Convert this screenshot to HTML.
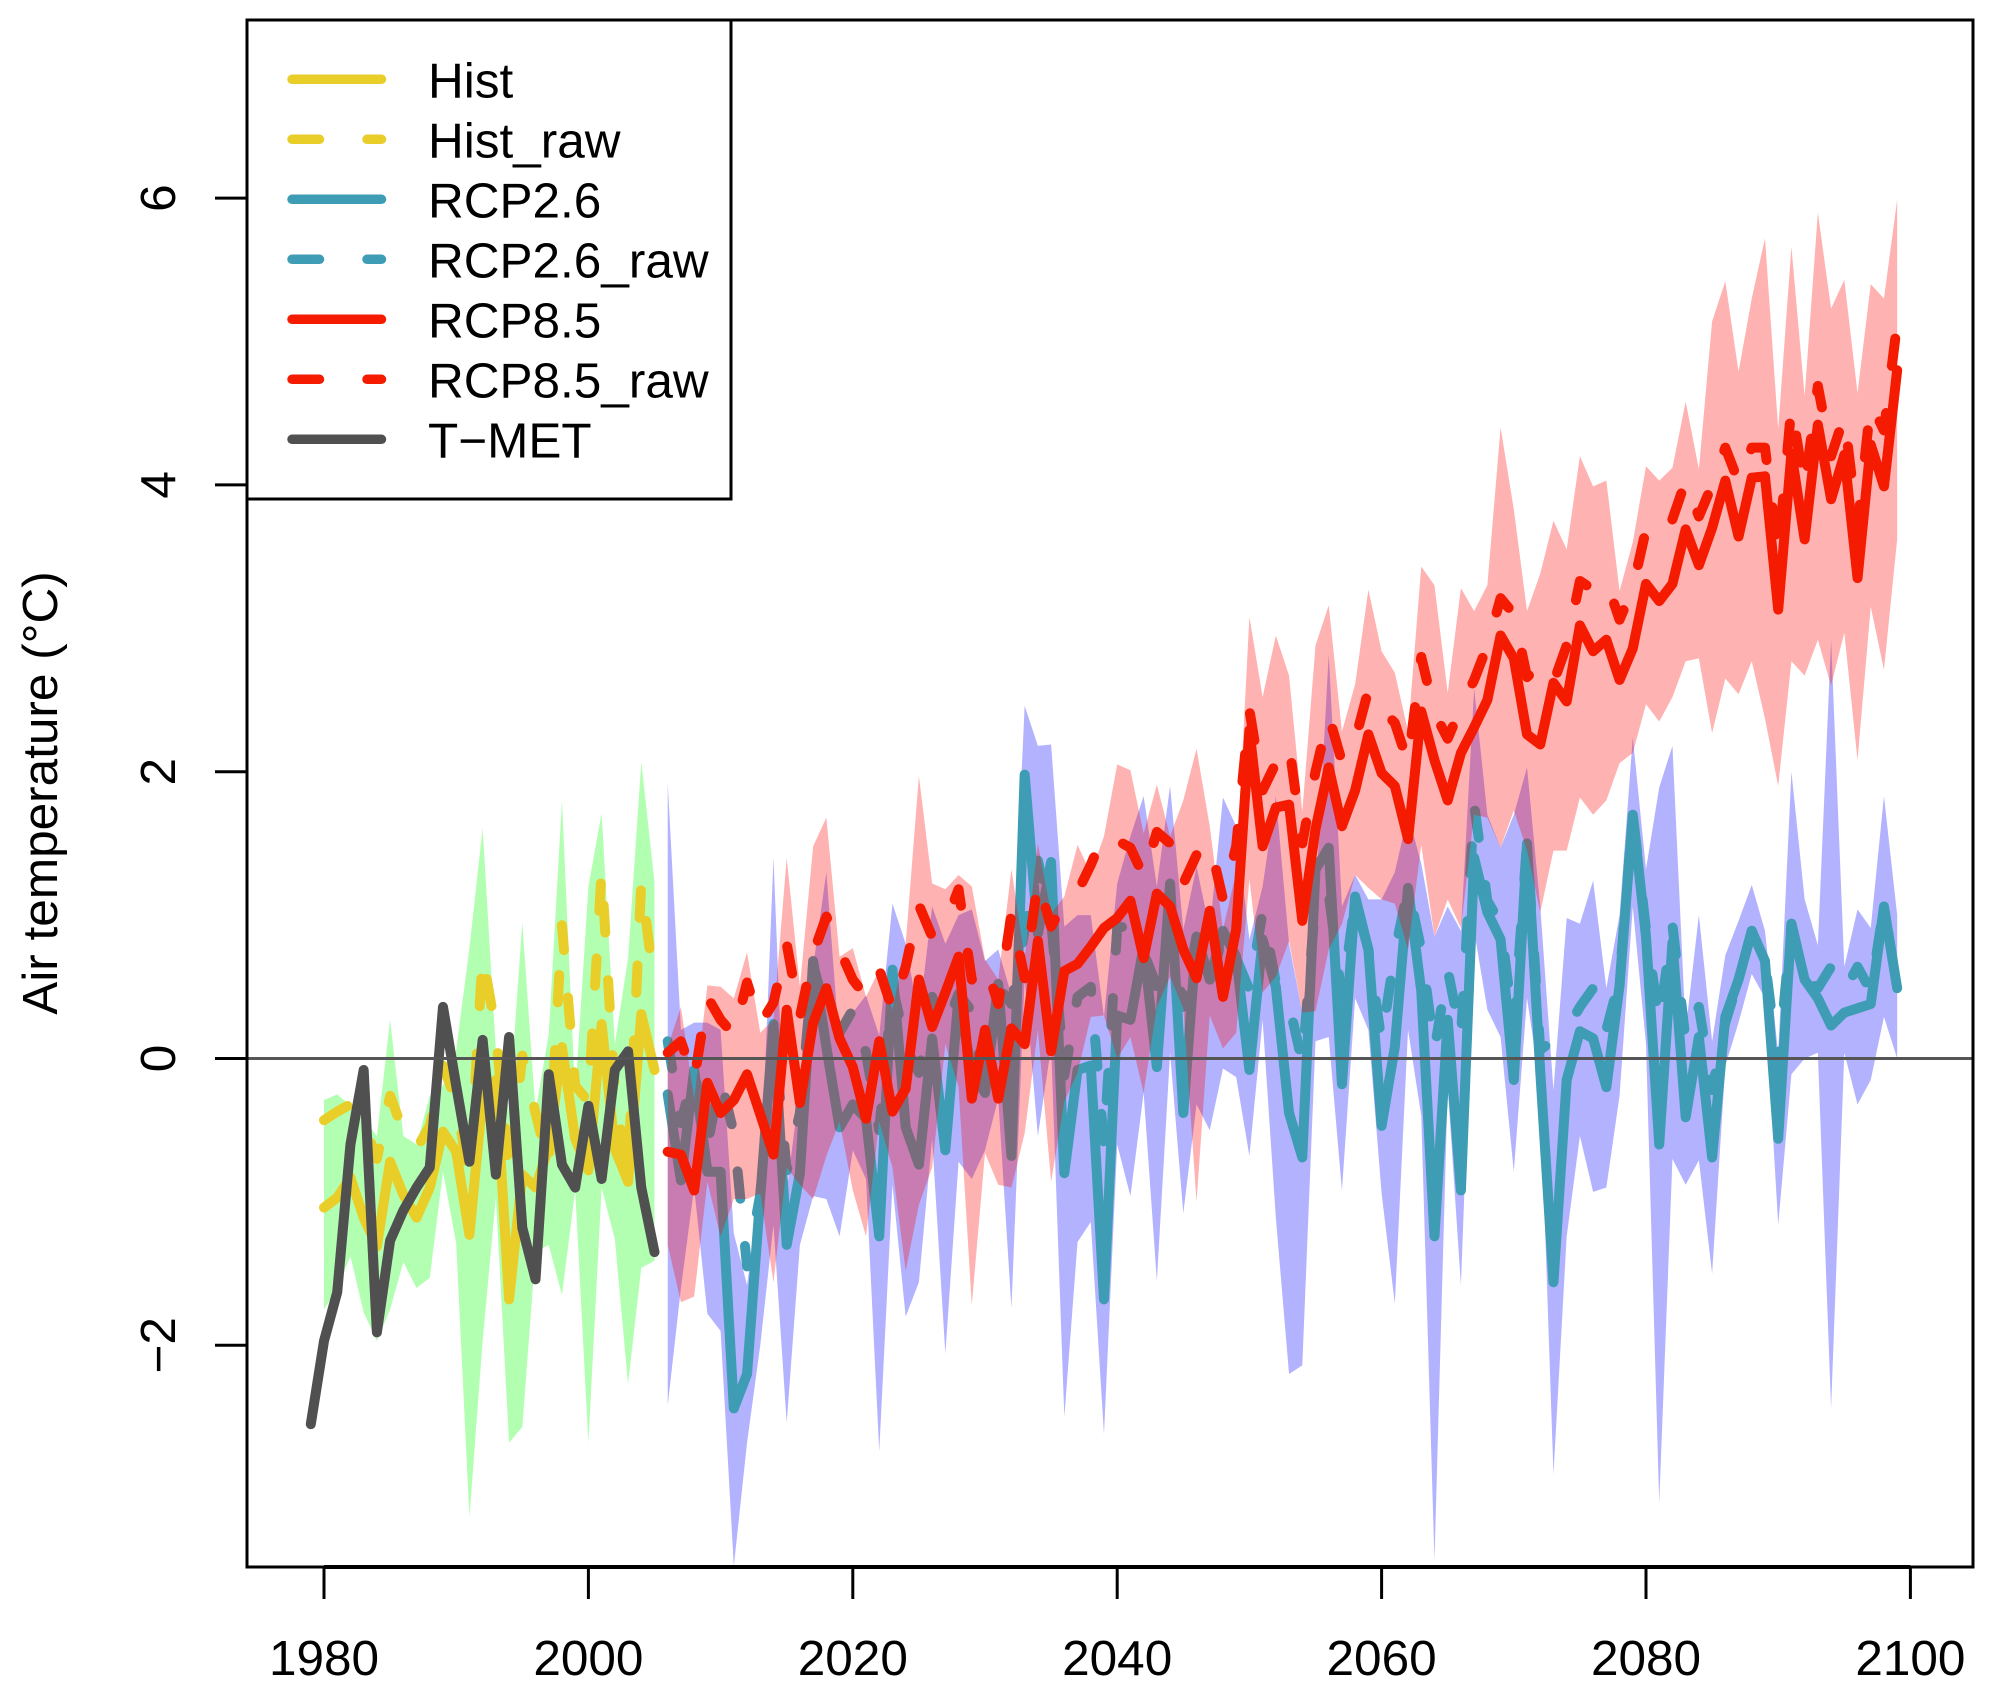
<!DOCTYPE html>
<html lang="en">
<head>
<meta charset="utf-8">
<title>Air temperature projections</title>
<style>
html,body{margin:0;padding:0;background:#fff;}
svg{display:block;font-family:"Liberation Sans",Arial,sans-serif;}
text{fill:#000;font-size:49.5px;}
</style>
</head>
<body>
<svg id="chart" xmlns="http://www.w3.org/2000/svg" width="1995" height="1694" viewBox="0 0 1995 1694">
<defs><clipPath id="plot-clip"><rect x="247" y="20" width="1726" height="1547"/></clipPath></defs>
<rect x="0" y="0" width="1995" height="1694" fill="#ffffff"/>
<g id="marks" clip-path="url(#plot-clip)"></g>
<g id="frame"></g>
</svg>
<script>
const histStart = 1980;
const metStart = 1979;
const futureStart = 2006;
const xTicks = [1980, 2000, 2020, 2040, 2060, 2080, 2100];
const yTicks = [-2, 0, 2, 4, 6];
const legendLabels = ["Hist", "Hist_raw", "RCP2.6", "RCP2.6_raw", "RCP8.5", "RCP8.5_raw", "T\u2212MET"];

const tmet = [-2.55,-1.97,-1.63,-0.60,-0.08,-1.91,-1.27,-1.06,-0.90,-0.76,0.36,-0.19,-0.72,0.13,-0.81,0.15,-1.18,-1.54,-0.11,-0.74,-0.90,-0.33,-0.84,-0.08,0.05,-0.90,-1.35];
const hist = [-1.04,-0.97,-0.83,-1.11,-1.31,-0.72,-0.95,-1.11,-0.90,-0.51,-0.65,-1.23,-0.26,-0.15,-1.68,-0.81,-0.90,-0.62,0.08,-0.56,-0.78,0.24,-0.63,-0.86,0.31,-0.08];
const histRaw = [-0.43,-0.37,-0.32,-0.45,-0.70,-0.26,-0.51,-0.63,-0.47,-0.05,-0.30,-0.86,0.72,0.19,-0.83,0.02,-0.38,-0.75,0.93,-0.19,-0.30,1.31,-0.25,-0.80,1.23,0.49];
const histUpper = [-0.29,-0.25,-0.33,-0.42,-0.54,0.27,-0.54,-0.60,-0.26,-0.19,0.06,0.77,1.61,0.06,-0.37,0.95,-0.37,0.17,1.80,-0.26,1.20,1.71,0.10,0.70,2.07,1.23];
const histLower = [-1.75,-1.60,-1.38,-1.77,-1.97,-1.75,-1.42,-1.60,-1.53,-0.79,-1.29,-3.20,-1.97,-0.97,-2.68,-2.57,-1.35,-1.30,-1.65,-0.92,-2.68,-0.90,-1.26,-2.27,-1.46,-1.41];

const rcp26 = [
-0.25,-0.85,-0.08,-0.79,-0.79,-2.44,-2.2,-0.96,0.24,-1.30,
-0.80,0.68,0.08,-0.48,-0.32,-0.42,-1.24,0.62,-0.48,-0.74,
0.14,-0.64,0.43,-0.1,-0.24,0.52,-0.68,1.98,0.87,1.37,
-0.80,-0.08,-0.05,-1.68,0.30,0.27,0.78,-0.06,1.22,-0.38,
0.85,0.55,0.89,0.71,-0.08,0.83,0.5,-0.38,-0.69,1.32,
1.47,-0.18,1.13,0.76,-0.47,0.08,1.19,0.47,-1.24,0.27,
-0.92,1.4,1.02,0.83,-0.15,1.5,-0.09,-1.56,-0.15,0.19,
0.14,-0.2,0.51,1.70,0.85,-0.60,0.81,-0.41,0.15,-0.69,
0.29,0.55,0.89,0.68,-0.56,0.94,0.55,0.42,0.23,0.32,
0.35,0.38,1.06,0.49];
const rcp26Raw = [
0.12,-0.45,-0.08,-0.6,-0.14,-0.52,-1.45,-0.95,0.2,-0.78,
-0.38,0.65,0.32,0.18,0.34,0.04,-0.5,0.5,0.1,-0.1,
0.43,0.22,0.45,0.33,-0.22,0.5,0.38,0.9,1.38,0.97,
-0.12,0.43,0.5,-0.6,0.91,0.93,0.74,0.5,0.9,0.36,
0.85,0.5,0.87,0.7,0.48,1.02,0.53,0.38,-0.03,1.1,
1.15,0.42,1.1,0.76,0.12,0.74,1.19,0.76,0.06,0.62,
0.15,1.77,1.1,0.94,0.2,1.51,0.06,0.13,0.2,0.36,
0.49,0.2,0.55,1.70,0.9,0.25,0.93,0.12,0.36,-0.22,
0.25,0.55,0.89,0.68,-0.05,0.94,0.55,0.49,0.64,0.47,
0.64,0.47,1.06,0.49];
const rcp26Upper = [
1.92,0.2,0.25,0.25,0.2,-1.22,-1.58,-0.92,1.4,-0.92,
-0.2,0.64,1.3,0.08,0.32,0.44,0.16,1.08,0.8,0.28,
1.06,0.8,1.0,1.04,0.68,0.76,0.44,2.46,2.18,2.19,
0.92,1.0,1.0,0.29,1.22,1.55,1.83,1.2,1.9,0.9,
1.34,0.9,1.82,1.62,0.83,1.2,1.83,0.8,0.32,1.1,
2.82,1.06,1.28,1.11,1.11,1.3,1.7,1.36,0.85,1.06,
0.89,2.58,1.7,1.47,1.7,2.03,1.06,-0.22,0.98,0.94,
1.24,0.49,1.0,2.24,1.32,1.89,2.18,0.2,1.0,0.12,
0.72,0.96,1.21,0.89,0.04,2.0,1.11,0.79,2.92,0.64,
1.04,0.91,1.83,1.0];
const rcp26Lower = [
-2.42,-1.6,-0.9,-1.78,-1.90,-3.54,-2.68,-2.0,-1.16,-2.54,
-1.3,-0.96,-0.98,-1.24,-0.64,-0.84,-2.74,-0.88,-1.8,-1.56,
-0.56,-2.06,-0.72,-0.84,-0.64,-0.28,-1.74,0.56,-0.54,0.08,
-2.5,-1.28,-1.14,-2.62,-0.6,-0.96,-0.24,-1.55,0.04,-1.08,
-0.32,-0.5,-0.07,-0.13,-0.68,0.27,-1.11,-2.2,-2.14,0.12,
0.15,-0.92,0.42,0.2,-0.94,-1.71,0.2,-0.4,-3.5,-0.2,
-1.58,0.89,0.34,0.15,-0.79,0.42,-0.2,-2.9,-1.24,-0.54,
-0.93,-0.9,-0.26,1.06,0.1,-3.1,-0.7,-0.88,-0.71,-1.5,
-0.05,0.25,0.59,0.42,-1.16,-0.11,0,0.04,-2.44,0.04,
-0.32,-0.15,0.29,0];

const rcp85 = [
-0.65,-0.67,-0.92,-0.17,-0.38,-0.29,-0.11,-0.39,-0.67,0.34,
-0.31,0.25,0.49,0.14,-0.06,-0.42,0.12,-0.37,-0.21,0.55,
0.22,0.46,0.71,-0.28,0.2,-0.28,0.21,0.1,0.82,0.05,
0.61,0.66,0.78,0.91,0.98,1.10,0.70,1.15,1.06,0.76,
0.56,1.03,0.43,0.90,2.29,1.48,1.75,1.77,0.96,1.60,
2.03,1.62,1.87,2.26,1.99,1.90,1.53,2.42,2.08,1.80,
2.13,2.31,2.5,2.95,2.79,2.26,2.19,2.62,2.49,3.02,
2.84,2.92,2.64,2.86,3.31,3.19,3.31,3.69,3.44,3.70,
4.03,3.64,4.05,4.06,3.13,4.22,3.62,4.42,3.90,4.21,
3.35,4.28,3.99,4.80];
const rcp85Raw = [
0.04,0.12,-0.15,0.43,0.27,0.165,0.53,0.24,0.39,0.80,
0.29,0.73,0.99,0.76,0.55,0.43,0.62,0.34,0.64,1.07,
0.85,0.94,1.18,0.55,0.665,0.38,1.01,0.56,1.24,0.92,
1.09,1.16,1.35,1.57,1.52,1.47,1.27,1.58,1.5,1.22,
1.42,1.51,1.11,1.48,2.43,1.87,2.06,2.19,1.50,2.0,
2.39,2.07,2.22,2.57,2.44,2.34,2.06,2.80,2.41,2.23,
2.45,2.64,2.88,3.21,3.10,2.66,2.74,2.62,2.88,3.33,
3.27,3.33,3.06,3.28,3.69,3.63,3.76,4.03,3.78,4.0,
4.26,4.02,4.26,4.26,3.52,4.55,3.98,4.69,4.2,4.48,
3.71,4.57,4.38,5.13];
const rcp85Upper = [
0.08,0.36,-0.29,0.51,0.50,0.42,0.74,0.18,0.27,1.40,
0.5,1.48,1.68,0.71,0.77,0.43,0.62,0.34,0.8,1.97,
1.22,1.18,1.28,1.2,0.69,0.55,1.32,0.7,1.5,1.01,
1.13,1.49,1.29,1.55,2.05,2.01,1.57,1.91,1.55,1.8,
2.16,1.62,0.9,1.3,3.08,2.52,2.95,2.67,1.72,2.88,
3.16,2.28,2.61,3.27,2.84,2.69,2.28,3.43,3.30,2.55,
3.28,3.12,3.30,4.40,3.83,3.12,3.38,3.75,3.55,4.20,
3.99,4.03,3.26,3.60,4.13,4.03,4.12,4.58,4.11,5.14,
5.42,4.79,5.30,5.72,4.39,5.66,4.62,5.90,5.23,5.43,
4.64,5.40,5.30,5.99];
const rcp85Lower = [
-1.3,-1.70,-1.66,-0.86,-1.24,-0.98,-0.98,-0.94,-1.56,-0.76,
-0.88,-0.98,-0.68,-0.44,-0.92,-1.24,-0.44,-0.76,-1.48,-1.02,
-0.76,0.1,-0.2,-1.72,-0.66,-0.88,-0.9,-0.52,0.2,-0.86,
-0.3,-0.1,0.29,0.30,0,0.15,-0.24,0.36,0.57,0.35,
-1.0,0.3,0.07,0.18,1.25,0.46,0.57,0.82,0.32,0.33,
0.76,0.94,1.28,1.19,1.11,1.08,0.76,1.49,0.85,1.11,
0.91,1.7,1.68,1.47,1.73,1.45,1.02,1.45,1.45,1.82,
1.70,1.80,2.06,2.13,2.47,2.35,2.52,2.77,2.79,2.27,
2.65,2.54,2.77,2.37,1.90,2.77,2.67,2.92,2.60,2.97,
2.08,3.15,2.71,3.62];

const NS = "http://www.w3.org/2000/svg";
const marks = document.getElementById("marks");
const frame = document.getElementById("frame");
const YELLOW = "#e9ce2a", TEAL = "#3e9db4", RED = "#f51b00", GRAY = "#505050";
const DASH = "27.5 47.5";

function xScale(year) { return 324 + (year - 1980) * 13.22; }
function yScale(v) { return 1058.5 - 143.4 * v; }

function make(tag, attrs, parent) {
  const el = document.createElementNS(NS, tag);
  for (const k in attrs) el.setAttribute(k, attrs[k]);
  parent.appendChild(el);
  return el;
}
function linePoints(values, start) {
  return values.map(function (v, i) { return xScale(start + i).toFixed(2) + "," + yScale(v).toFixed(2); }).join(" ");
}
function ribbonPoints(upper, lower, start) {
  const top = upper.map(function (v, i) { return xScale(start + i).toFixed(2) + "," + yScale(v).toFixed(2); });
  const bottom = lower.map(function (v, i) { return xScale(start + i).toFixed(2) + "," + yScale(v).toFixed(2); }).reverse();
  return top.concat(bottom).join(" ");
}
function ribbon(upper, lower, start, fill) {
  return make("polygon", { points: ribbonPoints(upper, lower, start), fill: fill, stroke: "none" }, marks);
}
function series(values, start, color, dashed) {
  const attrs = { points: linePoints(values, start), fill: "none", stroke: color, "stroke-width": 10, "stroke-linecap": "round", "stroke-linejoin": "round" };
  if (dashed) attrs["stroke-dasharray"] = DASH;
  return make("polyline", attrs, marks);
}

const histBand = ribbon(histUpper, histLower, histStart, "rgba(0,255,0,0.3)");


const histLine = series(hist, histStart, YELLOW, false);


const histRawLine = series(histRaw, histStart, YELLOW, true);



const rcp26Band = ribbon(rcp26Upper, rcp26Lower, futureStart, "rgba(0,0,255,0.3)");


const rcp26Line = series(rcp26, futureStart, TEAL, false);


const rcp26RawLine = series(rcp26Raw, futureStart, TEAL, true);



const rcp85Band = ribbon(rcp85Upper, rcp85Lower, futureStart, "rgba(255,0,0,0.3)");


const rcp85Line = series(rcp85, futureStart, RED, false);


const rcp85RawLine = series(rcp85Raw, futureStart, RED, true);



const tmetLine = series(tmet, metStart, GRAY, false);



const zeroLine = make("line", { x1: 247, x2: 1973, y1: yScale(0), y2: yScale(0), stroke: "#555555", "stroke-width": 3 }, marks);



const plotBox = make("rect", { x: 247, y: 20, width: 1726, height: 1547, fill: "none", stroke: "#000", "stroke-width": 3 }, frame);



const xAxisLine = make("line", { x1: xScale(xTicks[0]), x2: xScale(xTicks[xTicks.length - 1]), y1: 1567, y2: 1567, stroke: "#000", "stroke-width": 4 }, frame);



xTicks.forEach(function (t) {
  const tick = make("line", { x1: xScale(t), x2: xScale(t), y1: 1567, y2: 1599, stroke: "#000", "stroke-width": 3 }, frame);
  
  
  const label = make("text", { x: xScale(t), y: 1675, "text-anchor": "middle" }, frame);
  
  
  label.textContent = String(t);
});

yTicks.forEach(function (t) {
  const tick = make("line", { x1: 215, x2: 247, y1: yScale(t), y2: yScale(t), stroke: "#000", "stroke-width": 3 }, frame);
  
  
  const label = make("text", { transform: "translate(175," + yScale(t) + ") rotate(-90)", "text-anchor": "middle" }, frame);
  
  
  label.textContent = t < 0 ? "\u2212" + Math.abs(t) : String(t);
});

const yTitle = make("text", { transform: "translate(57,793) rotate(-90)", "text-anchor": "middle" }, frame);


yTitle.textContent = "Air temperature (\u00B0C)";

const legendBox = make("rect", { x: 247, y: 20, width: 484, height: 479, fill: "#fff", stroke: "#000", "stroke-width": 3 }, frame);



const legendColors = [YELLOW, YELLOW, TEAL, TEAL, RED, RED, GRAY];
const legendDashed = [false, true, false, true, false, true, false];
legendLabels.forEach(function (name, i) {
  const rowY = 79.3 + i * 60;
  const attrs = { x1: 292, x2: 381.5, y1: rowY, y2: rowY, stroke: legendColors[i], "stroke-width": 9.5, "stroke-linecap": "round" };
  if (legendDashed[i]) attrs["stroke-dasharray"] = DASH;
  const swatch = make("line", attrs, frame);
  
  
  const label = make("text", { x: 428, y: rowY + 18 }, frame);
  
  
  label.textContent = name;
});
</script>
</body>
</html>
